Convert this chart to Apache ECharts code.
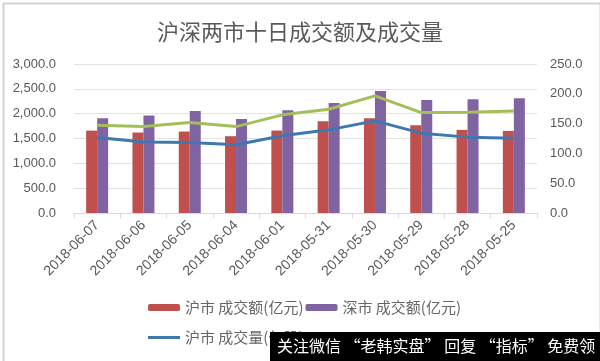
<!DOCTYPE html>
<html>
<head>
<meta charset="utf-8">
<script src="https://cdn.jsdelivr.net/npm/echarts@6/dist/echarts.min.js"></script>
<style>html,body{margin:0;padding:0;background:#fff}#c{width:600px;height:361px}</style>
</head>
<body>
<div id="c"></div>
<script>
var categories = ['2018-06-07','2018-06-06','2018-06-05','2018-06-04','2018-06-01','2018-05-31','2018-05-30','2018-05-29','2018-05-28','2018-05-25'];
var shAmount = [1659, 1620, 1640, 1546, 1660, 1848, 1908, 1768, 1673, 1653];
var szAmount = [1908, 1961, 2055, 1894, 2069, 2215, 2457, 2276, 2290, 2310];
var shVolume = [126.6, 119.0, 118.3, 114.4, 129.5, 139.5, 154.6, 134.0, 127.3, 125.6];
var szVolume = [147.4, 145.0, 151.8, 145.0, 164.7, 174.0, 196.5, 168.5, 169.0, 171.0];
var leftTicks = {min: 0, max: 3000, interval: 500};
var rightTicks = {min: 0, max: 250, interval: 50};
var names = ['沪市 成交额(亿元)', '深市 成交额(亿元)', '沪市 成交量(亿股)', '深市 成交量(亿股)'];

var chart = echarts.init(document.getElementById('c'));
var txt = '#595959';
var fontCJK = '"Noto Sans CJK SC", "Liberation Serif", serif';
var fontNum = '"Liberation Sans", Arial, sans-serif';
chart.setOption({
  animation: false,
  title: {
    text: '沪深两市十日成交额及成交量',
    left: 'center', top: 16,
    textStyle: {fontFamily: fontCJK, fontSize: 22, fontWeight: 'normal', color: '#5a5a5a'}
  },
  grid: {left: 74, right: 63, top: 64, bottom: 148},
  legend: [{
    data: [names[0], names[1]],
    left: 148, top: 300, padding: 0, itemGap: 2, itemWidth: 32, itemHeight: 7,
    textStyle: {fontFamily: fontCJK, fontSize: 15, color: '#666'}
  }, {
    data: [{name: names[2], icon: 'rect'}, {name: names[3], icon: 'rect'}],
    left: 148, top: 330, padding: 0, itemGap: 148, itemWidth: 32, itemHeight: 3,
    textStyle: {fontFamily: fontCJK, fontSize: 15, color: '#666'}
  }],
  xAxis: {
    type: 'category', data: categories,
    axisLine: {lineStyle: {color: '#d9d9d9'}},
    axisTick: {show: true, lineStyle: {color: '#d9d9d9'}},
    axisLabel: {rotate: 45, color: txt, fontSize: 14, fontFamily: fontNum, margin: 10, interval: 0}
  },
  yAxis: [{
    type: 'value', min: leftTicks.min, max: leftTicks.max, interval: leftTicks.interval,
    axisLine: {show: false}, axisTick: {show: false},
    splitLine: {lineStyle: {color: '#e3e3e3'}},
    axisLabel: {color: txt, fontSize: 13, fontFamily: fontNum, margin: 18,
      formatter: function (v) { return v.toLocaleString('en-US', {minimumFractionDigits: 1, maximumFractionDigits: 1}); }}
  }, {
    type: 'value', min: rightTicks.min, max: rightTicks.max, interval: rightTicks.interval,
    axisLine: {show: false}, axisTick: {show: false}, splitLine: {show: false},
    axisLabel: {color: txt, fontSize: 13, fontFamily: fontNum, margin: 13,
      formatter: function (v) { return v.toFixed(1); }}
  }],
  series: [{
    name: names[0], type: 'bar', data: shAmount, barWidth: 11, barGap: '0%',
    itemStyle: {color: '#c0504d'}
  }, {
    name: names[1], type: 'bar', data: szAmount, barWidth: 11, barGap: '0%',
    itemStyle: {color: '#8064a2'}
  }, {
    name: names[2], type: 'line', yAxisIndex: 1, data: shVolume, symbol: 'none',
    lineStyle: {color: '#3f78b0', width: 3}, itemStyle: {color: '#3f78b0'}
  }, {
    name: names[3], type: 'line', yAxisIndex: 1, data: szVolume, symbol: 'none',
    lineStyle: {color: '#a4be5c', width: 3}, itemStyle: {color: '#a4be5c'}
  }],
  graphic: [{
    type: 'rect', left: 1, top: 1, shape: {width: 597, height: 359},
    style: {fill: 'none', stroke: '#d4d4d4', lineWidth: 2}, z: 100
  }, {
    type: 'rect', left: 270, top: 332, shape: {width: 330, height: 29},
    style: {fill: '#000'}, z: 101
  }, {
    type: 'text', left: 277, top: 338,
    style: {text: '关注微信 “老韩实盘” 回复 “指标” 免费领', fill: '#fff', font: '16px "Noto Sans CJK SC"'}, z: 102
  }]
});
</script>
</body>
</html>
